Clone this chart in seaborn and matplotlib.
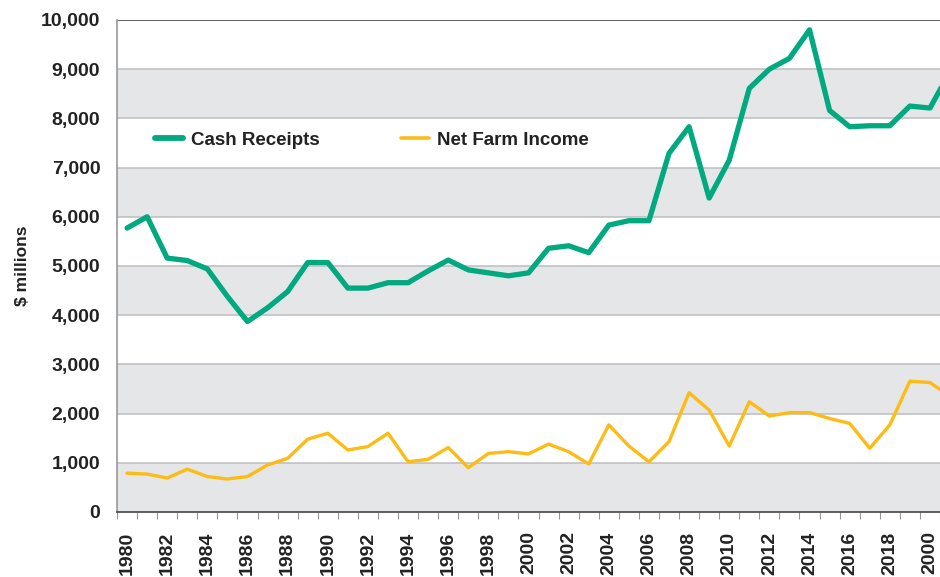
import pandas as pd
import matplotlib.pyplot as plt
from matplotlib.ticker import FuncFormatter
import seaborn as sns

sns.set_theme(style="white")
plt.rcParams["font.family"] = ["Liberation Sans", "DejaVu Sans"]

years = list(range(1980, 2022))

cash_receipts = [
    5770, 6000, 5160, 5110, 4940, 4380, 3870, 4150, 4480, 5070,
    5070, 4550, 4550, 4660, 4660, 4900, 5120, 4920, 4860, 4800,
    4860, 5360, 5410, 5270, 5830, 5920, 5920, 7290, 7830, 6380,
    7150, 8610, 9000, 9220, 9800, 8160, 7830, 7850, 7850, 8250,
    8210, 8950,
]

net_farm_income = [
    790, 770, 690, 870, 720, 670, 720, 955, 1090, 1480,
    1600, 1260, 1330, 1600, 1020, 1070, 1310, 900, 1190, 1225,
    1180, 1380, 1225, 975, 1770, 1340, 1020, 1430, 2425, 2070,
    1340, 2240, 1950, 2020, 2020, 1900, 1800, 1295, 1770, 2660,
    2630, 2350,
]

series_names = ["Cash Receipts", "Net Farm Income"]
series_colors = ["#00A97F", "#FDBB16"]

x_tick_years = list(range(1980, 2021, 2))
x_tick_labels = [str(y) for y in range(1980, 2020, 2)] + ["2000"]
y_ticks = list(range(0, 10001, 1000))

df = pd.DataFrame({
    "year": years * 2,
    "value": cash_receipts + net_farm_income,
    "series": [series_names[0]] * len(years) + [series_names[1]] * len(years),
})

fig = plt.figure(figsize=(9.4, 5.77), dpi=100)
fig.patch.set_facecolor("white")
ax = fig.add_axes([0.1245, 0.1127, 0.8755, 0.8527])
ax.set_facecolor("white")

# alternating bands: grey on 0-1000, 2000-3000, ...
for lo in y_ticks[:-1:2]:
    ax.axhspan(lo, lo + 1000, facecolor="#E5E6E8", edgecolor="none", zorder=0.5)
for t in y_ticks[1:-1]:
    ax.axhline(t, color="#BDBDC0", lw=1.1, zorder=1)
ax.axhline(10000, color="#444444", lw=1.2, zorder=1)

sns.lineplot(data=df, x="year", y="value", hue="series", palette=series_colors,
             ax=ax, zorder=3, legend=False)
lines = ax.get_lines()[-2:]
lines[0].set_linewidth(3.8)
lines[1].set_linewidth(2.4)

ax.set_xlim(1979.5, 2020.36)
ax.set_ylim(0, 10000)
ax.set_yticks(y_ticks)
ax.yaxis.set_major_formatter(FuncFormatter(lambda v, p: f"{int(v):,}"))
ax.set_xticks(x_tick_years)
ax.set_xticklabels(x_tick_labels, rotation=90)
ax.set_xticks([y + 0.5 for y in range(1979, 2021)], minor=True)
ax.tick_params(axis="x", which="major", length=0, pad=14, labelsize=14,
               labelcolor="#222222")
ax.tick_params(axis="x", which="minor", length=5, width=0.8, color="#999999",
               bottom=True)
ax.tick_params(axis="y", length=0, pad=12, labelsize=14, labelcolor="#222222")
for lab in ax.get_xticklabels() + ax.get_yticklabels():
    lab.set_fontweight("bold")

ax.set_xlabel("")
ax.set_ylabel("$ millions", fontsize=12.5, fontweight="bold", color="#222222",
              labelpad=8)

for s in ["top", "right"]:
    ax.spines[s].set_visible(False)
ax.spines["left"].set_color("#999999")
ax.spines["left"].set_linewidth(1.2)
ax.spines["bottom"].set_color("#444444")
ax.spines["bottom"].set_linewidth(1.2)

handles = [plt.Line2D([], [], color=series_colors[0], lw=4.2),
           plt.Line2D([], [], color=series_colors[1], lw=2.6)]
leg = ax.legend(handles, series_names, ncol=2, frameon=False, loc="center left",
                bbox_to_anchor=(0.046, 0.756), borderaxespad=0, borderpad=0,
                handlelength=1.5, handletextpad=0.45, columnspacing=4.3,
                prop={"size": 13.5, "weight": "bold"})
for t in leg.get_texts():
    t.set_color("#222222")

fig.savefig("out.png", dpi=100, facecolor="white")
